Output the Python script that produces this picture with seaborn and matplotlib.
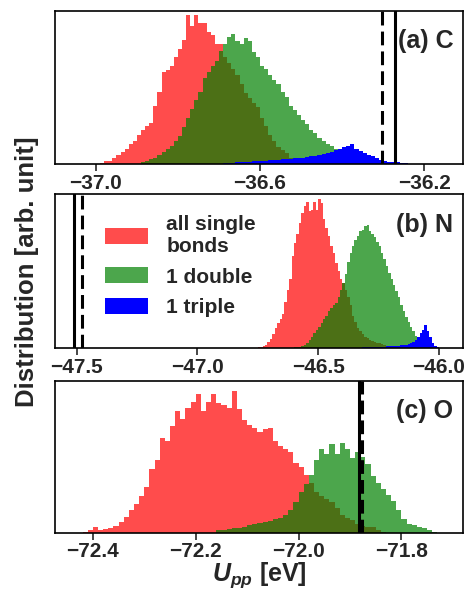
import numpy as np
import pandas as pd
import matplotlib
matplotlib.use("Agg")
import matplotlib.pyplot as plt
from matplotlib.patches import Patch
import seaborn as sns

# bin width of every histogram [eV]
bin_w = 0.01

# ---- (a) C : heights in % of panel height, first bin starts at *_start ----
c_single_start = -36.99
c_single = [0.5, 2, 2, 4, 6, 8, 10, 13, 15, 19, 22, 25, 27, 38, 47, 60, 61, 64, 70, 75,
            81, 97, 90, 97, 92, 92, 86, 84, 78, 78, 70, 66, 62, 58, 52, 46, 43, 40, 37, 30,
            25, 19, 15, 11, 9, 7, 4, 2, 1]
c_double_start = -36.89
c_double = [1, 2, 3, 4, 6, 8, 10, 12, 15, 18, 24, 30, 36, 42, 47, 56, 60, 64, 67, 74,
            78, 83, 85, 80, 78, 82, 80, 73, 70, 64, 62, 58, 55, 52, 47, 44, 38, 35, 32, 29,
            26, 22, 20, 17, 15, 13, 12, 10, 8, 6, 5, 4, 3, 2, 1.5, 1]
c_triple_start = -36.70
c_triple = [0.3, 0.5, 0.7, 0.8, 1, 1.2, 1.3, 1.5, 1.7, 1.8, 2, 2, 2.3, 2.5, 2.8, 3, 3.2,
            3.5, 3.6, 3.8, 4.2, 4.8, 5, 5.5, 6, 6.8, 7.5, 8, 9, 10, 11, 12, 13, 10, 8.5, 7,
            6, 5, 3.8, 2.8, 2, 1.5, 1.3, 1, 0.6, 0.4, 0.2]

# ---- (b) N ----
n_single_start = -46.76
n_single = [0.3, 0.6, 1, 1.5, 2, 4, 6, 9, 13, 16, 19, 22, 30, 38, 45, 60, 68, 74, 81, 88,
            92, 95, 89, 90, 95, 90, 97, 94, 84, 78, 73, 66, 62, 55, 50, 45, 42, 38, 33, 28,
            21, 17, 13, 11, 9, 7.5, 6.5, 5.5, 4.5, 4, 3.5, 3, 2.5, 2, 1.5, 1.2, 1, 0.8, 0.6, 0.4]
n_double_start = -46.61
n_double = [0.3, 0.5, 0.8, 1, 1.5, 2, 3, 5, 7, 10, 12, 14, 16, 19, 21, 24, 26, 28, 29, 33,
            38, 42, 48, 56, 62, 66, 70, 73, 76, 77, 79, 80, 76, 74, 72, 69, 66, 62, 58, 53,
            49, 45, 41, 37, 33, 28, 24, 20, 17, 14, 11, 8, 6, 4, 3, 2, 1.5, 1.2, 1, 0.6, 0.3]
n_triple_start = -46.33
n_triple = [0.3, 0.4, 0.5, 0.5, 0.6, 0.7, 0.7, 0.8, 0.9, 1, 1, 1.1, 1.2, 1.3, 1.4, 1.5,
            1.6, 1.8, 2, 2, 2.5, 3, 4, 5, 7, 10, 12, 15, 11, 7, 3, 1.5, 0.5]

# ---- (c) O ----
o_single_start = -72.42
o_single = [0.7, 2, 3.5, 2, 2.5, 3, 4.5, 7, 10.5, 15, 19, 24, 30, 42, 48, 62, 60, 70, 80, 75,
            82, 86, 91, 80, 86, 91, 85, 84, 82, 93, 81, 74, 71, 69, 66, 68, 69, 60, 57, 55,
            53, 46, 43, 38, 33, 27, 24, 22, 20, 16, 12, 10, 8.5, 6, 4.5, 4, 3.6, 2, 0.7]
o_double_start = -72.16
o_double = [1.5, 2, 2.5, 3, 3, 4, 5, 6, 6.5, 7, 8, 9, 10, 12, 15, 20, 27, 32, 38, 48,
            55, 52, 58, 52, 59, 55, 49, 53, 50, 45, 37, 33, 29, 25, 21, 15, 9, 6, 5, 4,
            3, 1.5, 0.7]

# reference energies (solid, dashed)
c_lines = [-36.270, -36.302]
n_lines = [-47.511, -47.478]
o_lines = [-71.882, -71.877]

panels = [
    ("(a) C", (-37.10, -36.105), [-37.0, -36.6, -36.2],
     [(c_single_start, c_single), (c_double_start, c_double), (c_triple_start, c_triple)], c_lines),
    ("(b) N", (-47.59, -45.90), [-47.5, -47.0, -46.5, -46.0],
     [(n_single_start, n_single), (n_double_start, n_double), (n_triple_start, n_triple)], n_lines),
    ("(c) O", (-72.474, -71.680), [-72.4, -72.2, -72.0, -71.8],
     [(o_single_start, o_single), (o_double_start, o_double)], o_lines),
]

labels = ["all single\nbonds", "1 double", "1 triple"]
colors = ["red", "green", "blue"]
alphas = [0.7, 0.7, 1.0]

sns.set_theme(style="white")
plt.rcParams["font.family"] = ["Liberation Sans", "DejaVu Sans"]
plt.rcParams["font.weight"] = "bold"
plt.rcParams["mathtext.fontset"] = "custom"
plt.rcParams["mathtext.it"] = "Liberation Sans:italic:bold"
plt.rcParams["mathtext.rm"] = "Liberation Sans:bold"
plt.rcParams["axes.edgecolor"] = "black"
plt.rcParams["axes.linewidth"] = 1.2

fig = plt.figure(figsize=(4.65, 5.9), dpi=100)
# axes boxes in figure fractions: left, bottom, width, height
boxes = [(0.118, 0.722, 0.878, 0.260),
         (0.118, 0.410, 0.878, 0.261),
         (0.118, 0.097, 0.878, 0.258)]

for (title, xlim, ticks, series, vlines), box in zip(panels, boxes):
    ax = fig.add_axes(box)
    for (start, h), col, a in zip(series, colors, alphas):
        h = np.asarray(h, dtype=float)
        n = len(h)
        centers = start + bin_w * (np.arange(n) + 0.5)
        df = pd.DataFrame({"x": centers, "w": h})
        sns.histplot(data=df, x="x", weights="w", binwidth=bin_w,
                     binrange=(start, start + n * bin_w), element="step",
                     fill=True, color=col, alpha=a, linewidth=0, ax=ax)
    ax.axvline(vlines[0], color="black", lw=2.2)
    ax.axvline(vlines[1], color="black", lw=2.2, ls=(0, (4.5, 2)))
    ax.set_xlim(*xlim)
    ax.set_ylim(0, 100)
    ax.set_yticks([])
    ax.set_xticks(ticks)
    ax.set_xticklabels([f"{t:.1f}".replace("-", "\u2212") for t in ticks])
    ax.tick_params(axis="x", bottom=True, direction="out", length=5, width=1.2,
                   labelsize=15, pad=2)
    ax.set_xlabel("")
    ax.set_ylabel("")
    ax.text(0.976, 0.80, title, transform=ax.transAxes, ha="right", va="center",
            fontsize=18, fontweight="bold")
    if title.startswith("(b)"):
        handles = [Patch(facecolor=c, alpha=a, edgecolor="none") for c, a in zip(colors, alphas)]
        ax.legend(handles, labels, loc="upper left", bbox_to_anchor=(0.122, 0.865),
                  frameon=False, fontsize=15, handlelength=2.1, handleheight=0.8,
                  handletextpad=0.85, labelspacing=0.55, borderpad=0, borderaxespad=0)
    if title.startswith("(c)"):
        ax.set_xlabel(r"$U_{pp}$ [eV]", fontsize=18, fontweight="bold", labelpad=-1)

fig.text(0.058, 0.54, "Distribution [arb. unit]", rotation=90, ha="center", va="center",
         fontsize=18.5, fontweight="bold")

fig.savefig("out.png", dpi=100)
